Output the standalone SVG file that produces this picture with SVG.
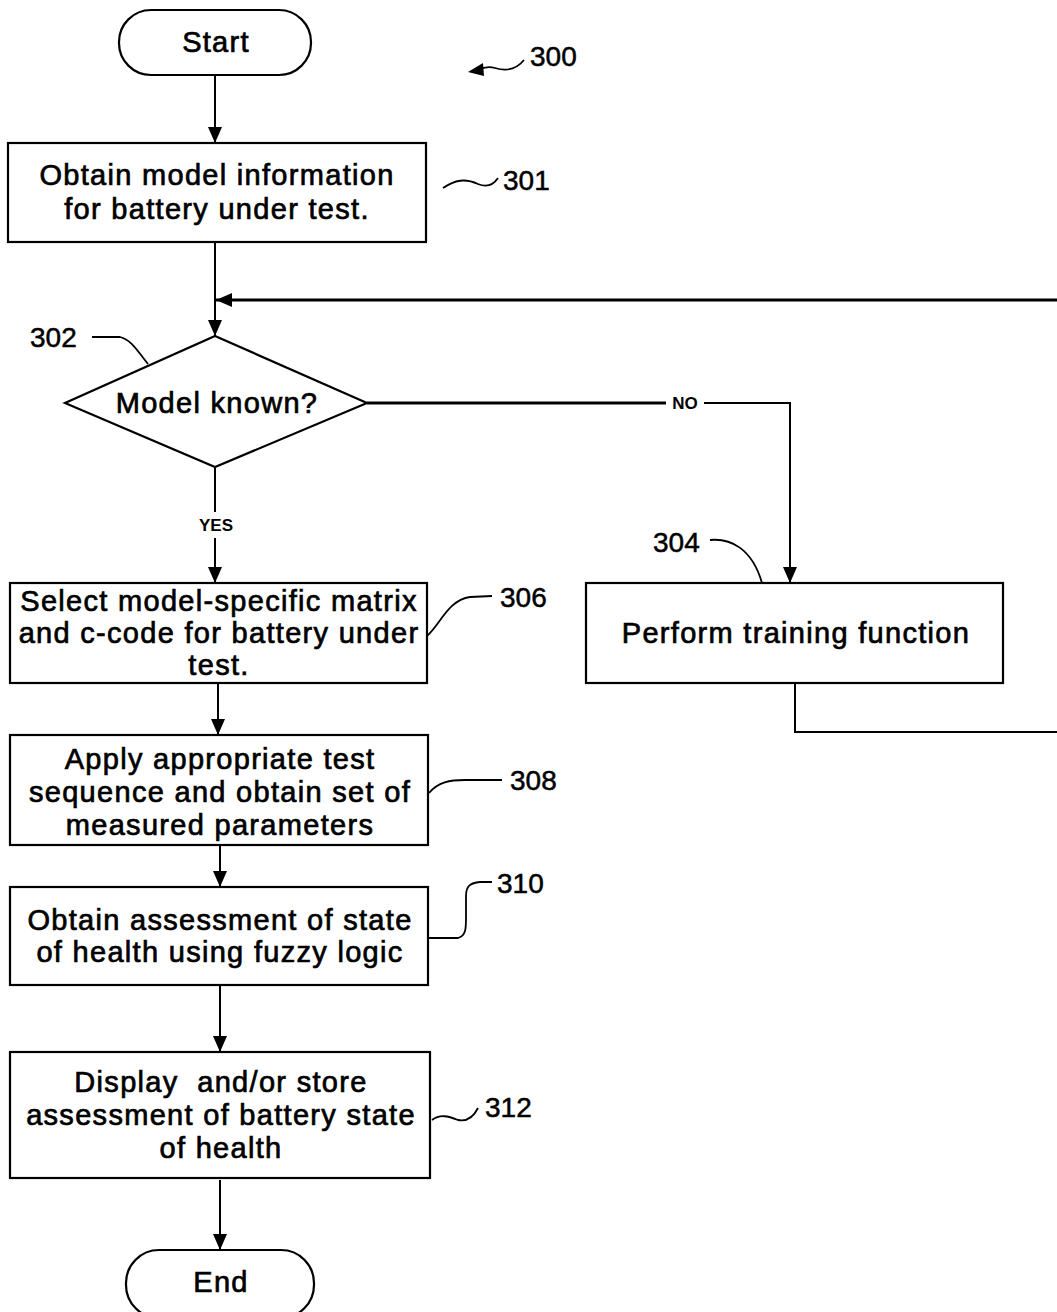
<svg xmlns="http://www.w3.org/2000/svg" width="1057" height="1312" viewBox="0 0 1057 1312">
<style>
.shape{fill:#fff;stroke:#000;stroke-width:2.2}
.t{font-family:"Liberation Sans",Arial,sans-serif;font-size:29px;letter-spacing:1.3px;text-anchor:middle;fill:#000;stroke:#000;stroke-width:0.7}
.lbl{font-family:"Liberation Sans",Arial,sans-serif;font-size:28px;fill:#000;stroke:#000;stroke-width:0.5}
.yn{font-family:"Liberation Sans",Arial,sans-serif;font-size:17px;font-weight:bold;text-anchor:middle;fill:#000}
.c{fill:none;stroke:#000;stroke-width:2}
.thick{fill:none;stroke:#000;stroke-width:3}
.ld{fill:none;stroke:#000;stroke-width:1.8}
</style>
<defs>
<marker id="a" viewBox="0 0 16 14" refX="16" refY="7" markerWidth="16" markerHeight="14" markerUnits="userSpaceOnUse" orient="auto">
<path d="M0,0 L16,7 L0,14 Z" fill="#000"/>
</marker>
</defs>

<g id="connectors">
<line class="c" x1="215" y1="75" x2="215" y2="143" marker-end="url(#a)"/>
<line class="c" x1="215" y1="242" x2="215" y2="336" marker-end="url(#a)"/>
<line class="thick" x1="1057" y1="300" x2="216" y2="300" marker-end="url(#a)"/>
<polyline class="thick" points="367,403 666,403"/>
<polyline class="c" points="704,403 790,403 790,583" marker-end="url(#a)"/>
<line class="c" x1="215" y1="467" x2="215" y2="512"/>
<line class="c" x1="215" y1="538" x2="215" y2="583" marker-end="url(#a)"/>
<polyline class="c" points="795,683 795,732 1057,732"/>
<line class="c" x1="218" y1="683" x2="218" y2="735" marker-end="url(#a)"/>
<line class="c" x1="220" y1="845" x2="220" y2="887" marker-end="url(#a)"/>
<line class="c" x1="220" y1="985" x2="220" y2="1052" marker-end="url(#a)"/>
<line class="c" x1="220" y1="1180" x2="220" y2="1250" marker-end="url(#a)"/>
<text class="yn" x="685" y="409">NO</text>
<text class="yn" x="216" y="531">YES</text>
</g>

<g id="ref300">
<text class="lbl" x="530" y="66">300</text>
<path class="ld" d="M524,60 C516,70 505,71 495,68 C488,66 482,68 478,70"/>
<path d="M468,72 L483,63 L484,76 Z" fill="#000"/>
</g>

<g id="start">
<rect class="shape" x="119" y="10" width="192" height="65" rx="32" ry="32"/>
<text class="t" x="216" y="52">Start</text>
</g>

<g id="n301">
<rect class="shape" x="8" y="143" width="418" height="99"/>
<text class="t" x="217" y="185">Obtain model information</text>
<text class="t" x="217" y="219">for battery under test.</text>
<path class="ld" d="M443,188 C455,180 465,178 478,184 C488,188 494,184 498,178"/>
<text class="lbl" x="503" y="190">301</text>
</g>

<g id="n302">
<polygon class="shape" points="215,336 367,403 215,467 65,403"/>
<text class="t" x="217" y="413">Model known?</text>
<text class="lbl" x="30" y="347">302</text>
<path class="ld" d="M92,337 L120,337 C132,340 138,352 148,364"/>
</g>

<g id="n304">
<rect class="shape" x="586" y="583" width="417" height="100"/>
<text class="t" x="796" y="643">Perform training function</text>
<text class="lbl" x="653" y="552">304</text>
<path class="ld" d="M710,540 C730,538 752,548 762,583"/>
</g>

<g id="n306">
<rect class="shape" x="10" y="583" width="417" height="100"/>
<text class="t" x="219" y="611">Select model-specific matrix</text>
<text class="t" x="219" y="643">and c-code for battery under</text>
<text class="t" x="219" y="675">test.</text>
<text class="lbl" x="500" y="607">306</text>
<path class="ld" d="M427,636 C440,625 448,600 470,597 L492,596"/>
</g>

<g id="n308">
<rect class="shape" x="10" y="735" width="418" height="110"/>
<text class="t" x="220" y="769">Apply appropriate test</text>
<text class="t" x="220" y="802">sequence and obtain set of</text>
<text class="t" x="220" y="835">measured parameters</text>
<text class="lbl" x="510" y="790">308</text>
<path class="ld" d="M429,793 C438,782 450,780 465,780 L502,780"/>
</g>

<g id="n310">
<rect class="shape" x="10" y="887" width="418" height="98"/>
<text class="t" x="220" y="930">Obtain assessment of state</text>
<text class="t" x="220" y="962">of health using fuzzy logic</text>
<text class="lbl" x="497" y="893">310</text>
<path class="ld" d="M429,938 L458,938 C466,936 466,928 466,918 L466,896 C466,886 470,883 480,882 L492,882"/>
</g>

<g id="n312">
<rect class="shape" x="10" y="1052" width="420" height="126"/>
<text class="t" x="221" y="1092">Display&#160; and/or store</text>
<text class="t" x="221" y="1125">assessment of battery state</text>
<text class="t" x="221" y="1158">of health</text>
<text class="lbl" x="485" y="1117">312</text>
<path class="ld" d="M432,1120 C440,1114 448,1116 458,1120 C468,1122 474,1116 478,1108"/>
</g>

<g id="end">
<rect class="shape" x="126" y="1250" width="188" height="68" rx="33" ry="33"/>
<text class="t" x="221" y="1292">End</text>
</g>
</svg>
